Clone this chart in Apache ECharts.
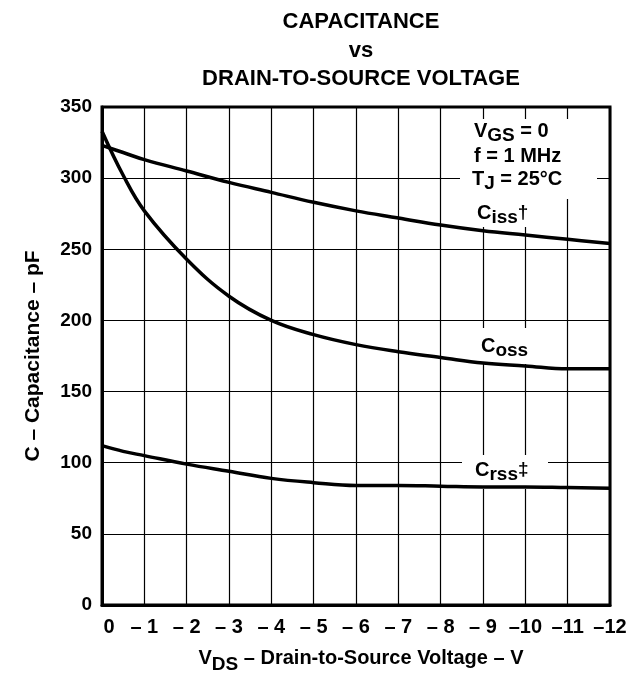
<!DOCTYPE html>
<html>
<head>
<meta charset="utf-8">
<script src="https://cdn.jsdelivr.net/npm/echarts@6/dist/echarts.min.js"></script>
<style>
  html, body { margin: 0; padding: 0; background: #fff; }
  #chart { width: 644px; height: 679px; }
</style>
</head>
<body>
<div id="chart"></div>
<script>
const vds = [0, 0.5, 1, 2, 3, 4, 5, 6, 7, 8, 9, 10, 11, 12];
const ciss = [323, 318, 313, 305, 297, 290, 283, 277, 272, 267, 263, 260, 257, 254];
const coss = [333, 302, 277, 243, 217, 200, 190, 183, 178, 174, 170, 168, 166, 166];
const crss = [112, 108, 105, 99, 94, 89, 86, 84, 84, 83.5, 83, 83, 82.5, 82];

const font = 'Liberation Sans, Arial, sans-serif';
const chart = echarts.init(document.getElementById('chart'));

function pairs(ys) {
  return vds.map((x, i) => [x, ys[i]]);
}

function curve(name, ys) {
  return {
    name: name,
    type: 'line',
    data: pairs(ys),
    smooth: 0.4,
    symbol: 'none',
    lineStyle: { color: '#000', width: 3.5 },
    z: 5
  };
}

// main + subscript rich styles
const base = { fontFamily: font, fontWeight: 'bold', fontSize: 20, fill: '#000', verticalAlign: 'top' };
const rich = {
  n: base,
  sub: Object.assign({}, base, { fontSize: 19, padding: [5, 0, 0, 0] }),
  sup: Object.assign({}, base, { fontSize: 19 })
};

function note(left, top, text) {
  return {
    type: 'text', left: left, top: top, z: 10,
    style: Object.assign({}, base, { text: text, rich: rich })
  };
}

function blank(x, y, w, h) {
  return { type: 'rect', left: x, top: y, z: 1, shape: { width: w, height: h }, style: { fill: '#fff' } };
}

const option = {
  backgroundColor: '#fff',
  animation: false,
  title: {
    text: 'CAPACITANCE\nvs\nDRAIN-TO-SOURCE VOLTAGE',
    left: 356,
    top: 3,
    textAlign: 'center',
    textStyle: { fontFamily: font, fontWeight: 'bold', fontSize: 22, color: '#000', lineHeight: 28.5 }
  },
  grid: {
    left: 102, right: 34, top: 107, bottom: 69,
    show: true, borderColor: '#000', borderWidth: 3
  },
  xAxis: {
    type: 'value',
    min: 0, max: 12, interval: 1,
    axisLine: { lineStyle: { color: '#000', width: 3 } },
    axisTick: { show: false },
    splitLine: { lineStyle: { color: '#000', width: 1.2 } },
    axisLabel: {
      color: '#000', fontFamily: font, fontWeight: 'bold', fontSize: 20, margin: 12,
      formatter: v => v === 0 ? '{z|0}' : (v < 10 ? '\u2013 ' + v : '\u2013' + v),
      rich: {
        z: { fontFamily: font, fontWeight: 'bold', fontSize: 20, color: '#000', padding: [0, 0, 0, 14] }
      }
    },
    name: '{v|V}{sub|DS}{t| \u2013 Drain-to-Source Voltage \u2013 V}',
    nameLocation: 'middle',
    nameGap: 43,
    nameTextStyle: {
      padding: [0, 0, 0, 10],
      rich: {
        v: { fontFamily: font, fontWeight: 'bold', fontSize: 20, color: '#000', verticalAlign: 'top' },
        sub: { fontFamily: font, fontWeight: 'bold', fontSize: 19, color: '#000', padding: [7, 0, 0, 0], verticalAlign: 'top' },
        t: { fontFamily: font, fontWeight: 'bold', fontSize: 20, color: '#000', verticalAlign: 'top' }
      }
    }
  },
  yAxis: {
    type: 'value',
    min: 0, max: 350, interval: 50,
    axisLine: { lineStyle: { color: '#000', width: 3 } },
    axisTick: { show: false },
    splitLine: { lineStyle: { color: '#000', width: 1.2 } },
    axisLabel: { color: '#000', fontFamily: font, fontWeight: 'bold', fontSize: 19, margin: 10 },
    name: 'C \u2013 Capacitance \u2013 pF',
    nameLocation: 'middle',
    nameRotate: 90,
    nameGap: 58,
    nameTextStyle: { color: '#000', fontFamily: font, fontWeight: 'bold', fontSize: 21 }
  },
  graphic: [
    blank(460, 119, 137, 80),
    blank(470, 199, 76, 28),
    blank(470, 328, 76, 36),
    blank(462, 455, 86, 34),
    note(474, 121, '{n|V}{sub|GS}{n| = 0}'),
    note(474, 146, 'f = 1 MHz'),
    note(472, 169, '{n|T}{sub|J}{n| = 25\u00b0C}'),
    note(477, 203, '{n|C}{sub|iss}{sup|\u2020}'),
    note(481, 336, '{n|C}{sub|oss}'),
    note(475, 460, '{n|C}{sub|rss}{sup|\u2021}')
  ],
  series: [
    curve('Ciss', ciss),
    curve('Coss', coss),
    curve('Crss', crss)
  ]
};

chart.setOption(option);
</script>
</body>
</html>
